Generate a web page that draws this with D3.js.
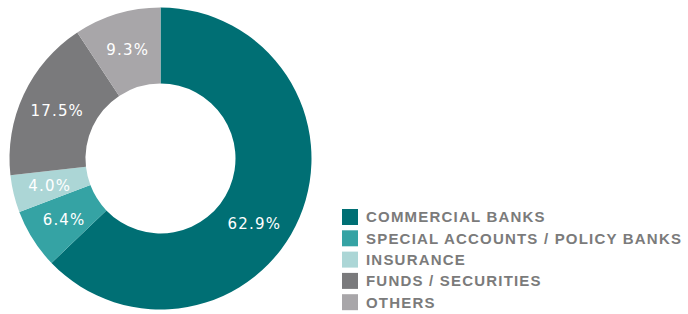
<!DOCTYPE html>
<html>
<head>
<meta charset="utf-8">
<script src="https://cdn.jsdelivr.net/npm/d3@7"></script>
<style>
  body { margin: 0; background: #fff; }
  svg { display: block; }
</style>
</head>
<body>
<div id="chart"></div>
<script>
// 데이터
var categories = ["COMMERCIAL BANKS", "SPECIAL ACCOUNTS / POLICY BANKS", "INSURANCE", "FUNDS / SECURITIES", "OTHERS"];
var shares = [62.9, 6.4, 4.0, 17.5, 9.3];
var colors = ["#006f74", "#35a3a4", "#acd6d6", "#7a7a7c", "#a8a6a9"];

var width = 688, height = 314;
var cx = 160.5, cy = 158.5;
var outerR = 151, innerR = 75;

var svg = d3.select("#chart").append("svg")
    .attr("width", width)
    .attr("height", height);

var pie = d3.pie().sort(null).value(function(d) { return d; });
var arc = d3.arc().innerRadius(innerR).outerRadius(outerR);
var labelArc = d3.arc().innerRadius(114).outerRadius(114);

var donut = svg.append("g")
    .attr("transform", "translate(" + cx + "," + cy + ")");

var arcs = pie(shares);

donut.selectAll("path")
    .data(arcs)
  .enter().append("path")
    .attr("d", arc)
    .attr("fill", function(d, i) { return colors[i]; });

// 큰 조각의 라벨은 아래쪽으로 조금 이동
function labelPos(d) {
  var a = (d.startAngle + d.endAngle) / 2;
  if (d.endAngle - d.startAngle > Math.PI) a += 0.2;
  return [114 * Math.sin(a), -114 * Math.cos(a)];
}

donut.selectAll("text")
    .data(arcs)
  .enter().append("text")
    .attr("transform", function(d) { return "translate(" + labelPos(d) + ")"; })
    .attr("text-anchor", "middle")
    .attr("dy", "0.36em")
    .attr("fill", "#fff")
    .attr("font-family", "'DejaVu Sans', sans-serif")
    .attr("font-size", 15)
    .attr("letter-spacing", 1.2)
    .text(function(d) { return d.value.toFixed(1) + "%"; });

// 범례
var legend = svg.append("g")
    .attr("transform", "translate(342,209)");

var rows = legend.selectAll("g")
    .data(categories)
  .enter().append("g")
    .attr("transform", function(d, i) { return "translate(0," + (i * 21.3) + ")"; });

rows.append("rect")
    .attr("width", 16)
    .attr("height", 16)
    .attr("fill", function(d, i) { return colors[i]; });

rows.append("text")
    .attr("x", 24)
    .attr("y", 8)
    .attr("dy", "0.36em")
    .attr("fill", "#7b7b7b")
    .attr("font-family", "'Liberation Sans', Arial, sans-serif")
    .attr("font-weight", "bold")
    .attr("font-size", 15)
    .attr("letter-spacing", 1.2)
    .text(function(d) { return d; });
</script>
</body>
</html>
